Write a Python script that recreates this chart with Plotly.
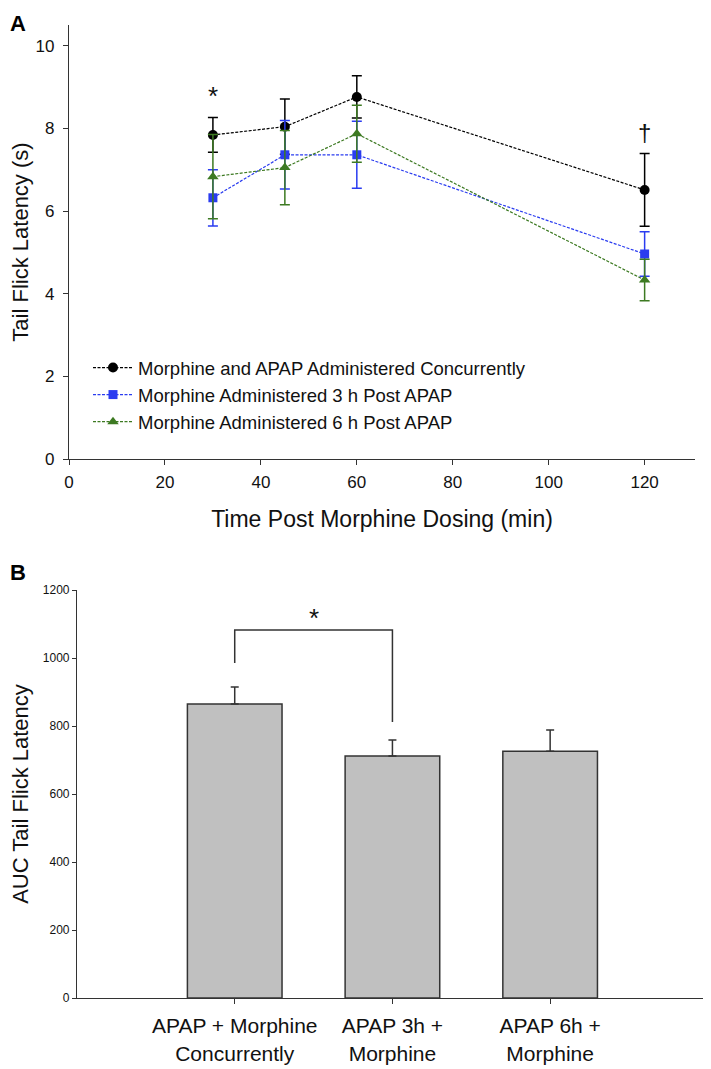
import plotly.graph_objects as go

# ---- Panel A data ----
time_min = [30, 45, 60, 120]
conc_mean = [7.84, 8.04, 8.76, 6.51]
conc_err = [0.42, 0.67, 0.51, 0.88]
h3_mean = [6.32, 7.36, 7.36, 4.96]
h3_err = [0.68, 0.83, 0.81, 0.54]
h6_mean = [6.83, 7.05, 7.87, 4.33]
h6_err = [1.02, 0.90, 0.69, 0.50]
series_names = ["Morphine and APAP Administered Concurrently",
                "Morphine Administered 3 h Post APAP",
                "Morphine Administered 6 h Post APAP"]
xticks_a = [0, 20, 40, 60, 80, 100, 120]
yticks_a = [0, 2, 4, 6, 8, 10]

# ---- Panel B data ----
groups = ["APAP + Morphine<br>Concurrently", "APAP 3h +<br>Morphine", "APAP 6h +<br>Morphine"]
auc_mean = [865, 712, 726]
auc_err = [50, 47, 62]
yticks_b = [0, 200, 400, 600, 800, 1000, 1200]

# annotation levels
star_a_y = 8.79
dagger_y = 7.90
bracket_top = 1082
bracket_left_end = 985
bracket_right_end = 812
star_b_y = 1118

W, H = 711, 1069
OFF = 8  # page body margin
FONT = "Liberation Sans, Arial, sans-serif"
BLACK = "#000000"
BLUE = "#2a3cf0"
GREEN = "#3d7a22"
AX = "#333333"

def fx(px):
    return (px - OFF) / W

def fy(py):
    return 1 - (py - OFF) / H

fig = go.Figure()

styles = [
    (conc_mean, conc_err, BLACK, "circle", 10),
    (h3_mean, h3_err, BLUE, "square", 9),
    (h6_mean, h6_err, GREEN, "triangle-up", 10),
]
for name, (m, e, c, sym, sz) in zip(series_names, styles):
    fig.add_trace(go.Scatter(
        x=time_min, y=m, name=name, mode="lines+markers",
        line=dict(color=c, width=1.2, dash="3px,1.5px"),
        marker=dict(color=c, symbol=sym, size=sz),
        error_y=dict(type="data", array=e, visible=True, color=c,
                     thickness=1.5, width=5),
        xaxis="x", yaxis="y",
    ))

fig.add_trace(go.Bar(
    x=[0, 1, 2], y=auc_mean, width=0.6,
    marker=dict(color="#c0c0c0", line=dict(color="#333333", width=1.5)),
    error_y=dict(type="data", array=auc_err, symmetric=False,
                 arrayminus=[0, 0, 0], visible=True, color="#333333",
                 thickness=1.5, width=4),
    showlegend=False, xaxis="x2", yaxis="y2",
))

fig.update_layout(
    width=W, height=H,
    margin=dict(l=0, r=0, t=0, b=0, autoexpand=False),
    paper_bgcolor="white", plot_bgcolor="white",
    font=dict(family=FONT, color="#111111"),
    showlegend=True,
    legend=dict(x=fx(88), y=fy(349), xanchor="left", yanchor="top",
                bgcolor="rgba(0,0,0,0)", font=dict(size=18.5, family=FONT),
                tracegroupgap=0, itemwidth=40),
    xaxis=dict(domain=[fx(69), fx(695)], range=[0, 130.5],
               tickvals=xticks_a, ticks="outside", ticklen=5, tickcolor=AX,
               showline=True, linecolor=AX, linewidth=1.2,
               showgrid=False, zeroline=False, automargin=False,
               tickfont=dict(size=17), ticklabelstandoff=2,
               title=dict(text="Time Post Morphine Dosing (min)",
                          font=dict(size=23), standoff=20),
               anchor="y"),
    yaxis=dict(domain=[fy(459), fy(25)], range=[0, 10.5],
               tickvals=yticks_a, ticks="outside", ticklen=5, tickcolor=AX,
               showline=True, linecolor=AX, linewidth=1.2,
               showgrid=False, zeroline=False, automargin=False,
               tickfont=dict(size=17), ticklabelstandoff=5,
               title=dict(text="Tail Flick Latency (s)", font=dict(size=22),
                          standoff=6),
               anchor="x"),
    xaxis2=dict(domain=[fx(77), 1.0], range=[-1, 3.02 + OFF / 158],
                tickvals=[0, 1, 2], ticktext=groups,
                ticks="outside", ticklen=5, tickcolor=AX,
                showline=True, linecolor=AX, linewidth=1.2,
                showgrid=False, zeroline=False, automargin=False,
                tickfont=dict(size=21), ticklabelstandoff=4, anchor="y2"),
    yaxis2=dict(domain=[fy(998), fy(590)], range=[0, 1200],
                tickvals=yticks_b, ticks="outside", ticklen=4, tickcolor=AX,
                showline=True, linecolor=AX, linewidth=1.2,
                showgrid=False, zeroline=False, automargin=False,
                tickfont=dict(size=12, family="Liberation Sans Narrow, Liberation Sans, Arial"),
                title=dict(text="AUC Tail Flick Latency", font=dict(size=22),
                           standoff=14),
                anchor="x2"),
)

# significance bracket in panel B
fig.add_shape(type="path",
              path=f"M 0 {bracket_left_end} L 0 {bracket_top} L 1 {bracket_top} L 1 {bracket_right_end}",
              xref="x2", yref="y2", line=dict(color="#333333", width=1.5))

fig.add_annotation(x=0.5, y=star_b_y, xref="x2", yref="y2", text="*",
                   showarrow=False, font=dict(size=26, color="#111111"))
fig.add_annotation(x=time_min[0], y=star_a_y, xref="x", yref="y", text="*",
                   showarrow=False, font=dict(size=26, color="#111111"))
fig.add_annotation(x=time_min[3], y=dagger_y, xref="x", yref="y", text="†",
                   showarrow=False, font=dict(size=24, color="#111111"))

# panel letters
fig.add_annotation(x=fx(8), y=fy(9), xref="paper", yref="paper", text="<b>A</b>",
                   showarrow=False, xanchor="left", yanchor="top",
                   font=dict(size=22, color="#000000"))
fig.add_annotation(x=fx(8), y=fy(572), xref="paper", yref="paper", text="<b>B</b>",
                   showarrow=False, xanchor="left", yanchor="middle",
                   font=dict(size=22, color="#000000"))

fig.write_html("out.html")
